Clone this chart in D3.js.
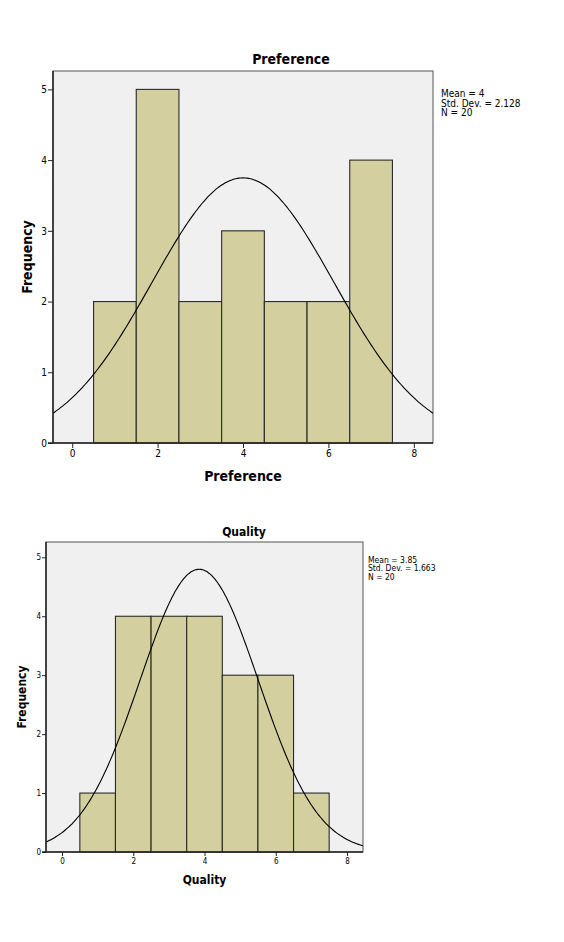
<!DOCTYPE html>
<html>
<head>
<meta charset="utf-8">
<script src="https://cdn.jsdelivr.net/npm/d3@7"></script>
<style>
  body { margin: 0; background: #fff; }
  svg text { font-family: "DejaVu Sans Condensed", "DejaVu Sans", sans-serif; fill: #000; }
</style>
</head>
<body>
<svg id="chart" width="564" height="942"></svg>
<script>
// bin centres shared by both histograms
var binCenters = [1, 2, 3, 4, 5, 6, 7];
var xTicks = [0, 2, 4, 6, 8];
var yTicks = [0, 1, 2, 3, 4, 5];

// Preference histogram
var prefCounts = [2, 5, 2, 3, 2, 2, 4];
var prefStats = ["Mean = 4", "Std. Dev. = 2.128", "N = 20"];
var prefMean = 4, prefSd = 2.128, prefN = 20;

// Quality histogram
var qualCounts = [1, 4, 4, 4, 3, 3, 1];
var qualStats = ["Mean = 3.85", "Std. Dev. = 1.663", "N = 20"];
var qualMean = 3.85, qualSd = 1.663, qualN = 20;

var svg = d3.select("#chart");

function drawHist(cfg) {
  var x = d3.scaleLinear().domain([-0.45, 8.45]).range([cfg.left, cfg.right]);
  var y = d3.scaleLinear().domain([0, 5.26]).range([cfg.bottom, cfg.top]);

  var g = svg.append("g");

  // plot background + frame
  g.append("rect")
    .attr("x", cfg.left).attr("y", cfg.top)
    .attr("width", cfg.right - cfg.left).attr("height", cfg.bottom - cfg.top)
    .attr("fill", "#f0f0f0")
    .attr("stroke", "#555").attr("stroke-width", 1);

  var clipId = "clip" + cfg.id;
  g.append("clipPath").attr("id", clipId)
    .append("rect")
    .attr("x", cfg.left).attr("y", cfg.top)
    .attr("width", cfg.right - cfg.left).attr("height", cfg.bottom - cfg.top);

  // bars
  g.selectAll("rect.bar")
    .data(cfg.counts)
    .enter()
    .append("rect")
    .classed("bar", true)
    .attr("x", (d, i) => x(binCenters[i] - 0.5))
    .attr("width", (d, i) => x(binCenters[i] + 0.5) - x(binCenters[i] - 0.5))
    .attr("y", d => y(d))
    .attr("height", d => y(0) - y(d))
    .attr("fill", "#d3cf9f")
    .attr("stroke", "#2a2a2a")
    .attr("stroke-width", 1.1);

  // fitted normal curve
  var k = cfg.n / (cfg.sd * Math.sqrt(2 * Math.PI));
  var pts = d3.range(-0.45, 8.46, 0.05).map(function(v) {
    return [v, k * Math.exp(-0.5 * Math.pow((v - cfg.mean) / cfg.sd, 2))];
  });
  g.append("path")
    .datum(pts)
    .attr("clip-path", "url(#" + clipId + ")")
    .attr("fill", "none")
    .attr("stroke", "#000")
    .attr("stroke-width", 1.1)
    .attr("d", d3.line().x(d => x(d[0])).y(d => y(d[1])).curve(d3.curveBasis));

  // axes
  var leftAxis = d3.axisLeft(y).tickValues(yTicks).tickSize(cfg.tick).tickPadding(1).tickFormat(d3.format("d"));
  var bottomAxis = d3.axisBottom(x).tickValues(xTicks).tickSize(cfg.tick).tickPadding(2).tickFormat(d3.format("d"));

  var ya = g.append("g")
    .attr("transform", `translate(${cfg.left},0)`)
    .call(leftAxis);
  var xa = g.append("g")
    .attr("transform", `translate(0,${cfg.bottom})`)
    .call(bottomAxis);
  [ya, xa].forEach(function(a) {
    a.select(".domain").attr("stroke", "#222").attr("stroke-width", 1.5);
    a.selectAll(".tick line").attr("stroke", "#222");
    a.selectAll(".tick text").attr("font-size", cfg.tickFont + "px").attr("font-family", "DejaVu Sans");
  });
  ya.select(".domain").attr("d", `M0,${cfg.bottom}V${cfg.top}`);
  xa.select(".domain").attr("d", `M${cfg.left - cfg.tick},0H${cfg.right}`);

  // title
  g.append("text")
    .attr("x", cfg.titleX).attr("y", cfg.titleY)
    .attr("text-anchor", "middle")
    .attr("font-weight", "bold")
    .attr("font-size", cfg.titleFont + "px")
    .text(cfg.title);

  // x label
  g.append("text")
    .attr("x", (cfg.left + cfg.right) / 2).attr("y", cfg.xLabelY)
    .attr("text-anchor", "middle")
    .attr("font-weight", "bold")
    .attr("font-size", cfg.labelFont + "px")
    .text(cfg.title);

  // y label
  g.append("text")
    .attr("transform", `translate(${cfg.yLabelX},${(cfg.top + cfg.bottom) / 2}) rotate(-90)`)
    .attr("text-anchor", "middle")
    .attr("font-weight", "bold")
    .attr("font-size", cfg.labelFont + "px")
    .text("Frequency");

  // stats box
  g.selectAll("text.stat")
    .data(cfg.stats)
    .enter()
    .append("text")
    .classed("stat", true)
    .attr("x", cfg.statX)
    .attr("y", (d, i) => cfg.statY + i * cfg.statStep)
    .attr("font-size", cfg.statFont + "px")
    .text(d => d);
}

drawHist({
  id: 1, counts: prefCounts, stats: prefStats, mean: prefMean, sd: prefSd, n: prefN,
  title: "Preference",
  left: 53, right: 433, top: 71, bottom: 443, tick: 5,
  tickFont: 10, titleFont: 14, labelFont: 14,
  titleX: 291, titleY: 64, xLabelY: 481, yLabelX: 32,
  statX: 441, statY: 97, statStep: 9.5, statFont: 10
});

drawHist({
  id: 2, counts: qualCounts, stats: qualStats, mean: qualMean, sd: qualSd, n: qualN,
  title: "Quality",
  left: 46, right: 363, top: 542, bottom: 852, tick: 4,
  tickFont: 8, titleFont: 12, labelFont: 12,
  titleX: 244, titleY: 536, xLabelY: 884, yLabelX: 26,
  statX: 368, statY: 563, statStep: 8.3, statFont: 8.5
});
</script>
</body>
</html>
